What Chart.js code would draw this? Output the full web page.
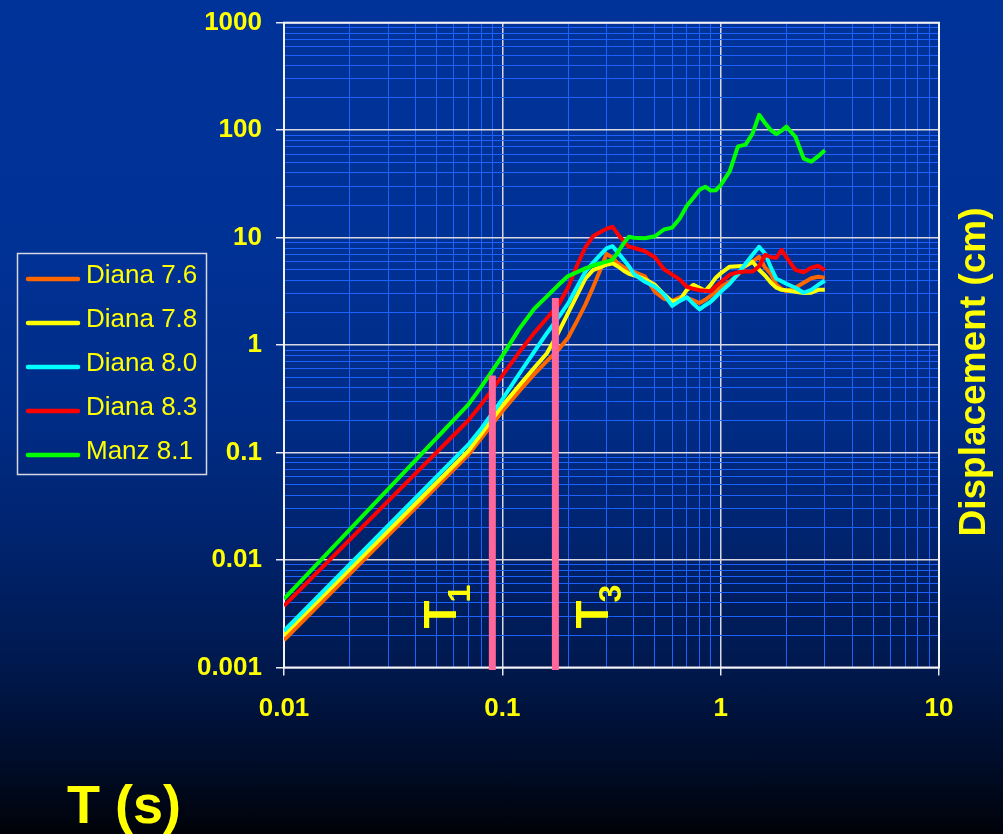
<!DOCTYPE html>
<html>
<head>
<meta charset="utf-8">
<script src="https://cdn.jsdelivr.net/npm/chart.js@4.4.1/dist/chart.umd.min.js"></script>
<style>
  html, body { margin: 0; padding: 0; }
  body {
    width: 1003px; height: 834px; overflow: hidden;
    background: linear-gradient(to bottom, #003399 0%, #003195 30%, #002c86 50%, #00236d 65%, #001a52 78%, #000e2e 90%, #000208 100%);
  }
  canvas { display: block; }
</style>
</head>
<body>
<canvas id="chart" width="1003" height="834"></canvas>
<script>
// Spectral periods (s)
const periods = [0.01, 0.07, 0.08, 0.09, 0.1, 0.12, 0.14, 0.16, 0.18, 0.2, 0.22, 0.24, 0.26, 0.28, 0.3,
  0.32, 0.34, 0.36, 0.38, 0.4, 0.45, 0.5, 0.55, 0.6, 0.65, 0.7, 0.75, 0.8, 0.85, 0.9, 0.95, 1.0,
  1.1, 1.2, 1.3, 1.4, 1.5, 1.6, 1.7, 1.8, 1.9, 2.0, 2.2, 2.4, 2.6, 2.8, 3.0];

// Spectral displacement (cm) for each record
const diana76 = [0.0018, 0.096, 0.136, 0.184, 0.242, 0.377, 0.537, 0.711, 0.898, 1.17, 1.68, 2.38, 3.43, 4.92, 7.06,
  6.50, 5.71, 5.30, 5.02, 4.81, 4.37, 3.13, 2.70, 2.58, 2.79, 2.75, 2.61, 2.46, 2.64, 2.88, 3.13, 3.49,
  3.88, 4.52, 5.47, 5.97, 6.64, 5.25, 4.61, 3.64, 3.34, 3.17, 3.42, 3.80, 4.19, 4.33, 4.24];
const diana78 = [0.00201, 0.104, 0.149, 0.205, 0.272, 0.426, 0.614, 0.841, 1.29, 1.98, 2.92, 4.16, 4.98, 5.29, 5.60,
  5.78, 5.36, 4.92, 4.61, 4.47, 4.10, 3.64, 2.97, 2.53, 2.64, 3.27, 3.64, 3.42, 3.20, 3.64, 4.24, 4.66,
  5.36, 5.42, 5.47, 5.97, 5.02, 4.42, 3.80, 3.42, 3.27, 3.24, 3.13, 3.05, 3.07, 3.27, 3.27];
const diana80 = [0.00219, 0.119, 0.167, 0.233, 0.313, 0.547, 0.871, 1.29, 1.79, 2.43, 3.48, 4.81, 5.83, 6.86, 7.96,
  8.32, 7.18, 6.22, 5.42, 4.61, 3.88, 3.49, 2.97, 2.32, 2.58, 2.79, 2.42, 2.15, 2.35, 2.53, 2.82, 3.13,
  3.72, 4.61, 5.71, 6.93, 8.22, 7.08, 5.25, 4.14, 3.93, 3.72, 3.42, 3.07, 3.27, 3.64, 3.97];
const diana83 = [0.00374, 0.200, 0.280, 0.387, 0.520, 0.869, 1.30, 1.78, 2.34, 3.44, 5.53, 8.11, 10.3, 11.2, 12.1,
  12.6, 10.6, 9.25, 8.22, 8.05, 7.47, 6.57, 5.08, 4.52, 4.06, 3.49, 3.34, 3.24, 3.20, 3.17, 3.53, 3.85,
  4.52, 4.76, 4.84, 4.84, 5.42, 6.93, 6.57, 6.50, 7.71, 6.57, 5.02, 4.76, 5.25, 5.47, 4.97];
const manz81 = [0.00435, 0.281, 0.409, 0.579, 0.794, 1.43, 2.18, 2.84, 3.60, 4.39, 4.78, 5.18, 5.50, 5.74, 5.98,
  6.22, 7.43, 8.89, 10.2, 9.98, 9.87, 10.3, 11.9, 12.4, 15.1, 19.8, 23.5, 27.9, 29.8, 27.4, 27.6, 30.8,
  41.3, 70.6, 73.3, 92.7, 139, 116, 100, 91.8, 98.9, 108, 86.9, 54.3, 50.9, 57.3, 64.9];

const seriesLabels = ['Diana 7.6', 'Diana 7.8', 'Diana 8.0', 'Diana 8.3', 'Manz 8.1'];
const seriesColors = ['#ff6600', '#ffff00', '#00ffff', '#ff0000', '#00ff00'];
const seriesValues = [diana76, diana78, diana80, diana83, manz81];

// Characteristic periods T1 and T3 (s) and the height of their markers (cm)
const markerPeriods = [0.09, 0.175];
const markerTops = [0.52, 2.75];
const markerBase = 0.00095;
const markerSubscripts = ['1', '3'];

// Axis decades and their labels
const xTickValues = [0.01, 0.1, 1, 10];
const xTickLabels = ['0.01', '0.1', '1', '10'];
const yTickValues = [0.001, 0.01, 0.1, 1, 10, 100, 1000];
const yTickLabels = ['0.001', '0.01', '0.1', '1', '10', '100', '1000'];

const FONT = 'Arial, "Liberation Sans", Helvetica, sans-serif';
const YELLOW = '#ffff00';

function isDecade(v) {
  const l = Math.log10(v);
  return Math.abs(l - Math.round(l)) < 1e-6;
}
// 1..9 x 10^e for every decade between the first and last value
function logTicks(values) {
  const out = [];
  const e0 = Math.round(Math.log10(values[0]));
  const e1 = Math.round(Math.log10(values[values.length - 1]));
  for (let e = e0; e < e1; e++) {
    for (let m = 1; m <= 9; m++) out.push(parseFloat((m * Math.pow(10, e)).toPrecision(10)));
  }
  out.push(values[values.length - 1]);
  return out.map(v => ({ value: v }));
}
function labelFor(v, values, labels) {
  if (!isDecade(v)) return '';
  const i = values.findIndex(t => Math.abs(Math.log10(t) - Math.log10(v)) < 1e-6);
  return i >= 0 ? labels[i] : '';
}

const datasets = seriesValues.map((vals, i) => ({
  label: seriesLabels[i],
  data: periods.map((t, k) => ({ x: t, y: vals[k] })),
  borderColor: seriesColors[i],
  backgroundColor: seriesColors[i],
  borderWidth: 4,
  pointRadius: 0,
  tension: 0,
  fill: false,
  borderJoinStyle: 'round',
  order: seriesValues.length - i
}));

markerPeriods.forEach((t, i) => {
  datasets.push({
    label: 'T' + markerSubscripts[i],
    data: [{ x: t, y: markerBase }, { x: t, y: markerTops[i] }],
    borderColor: '#ff6699',
    borderWidth: 7,
    borderCapStyle: 'butt',
    pointRadius: 0,
    fill: false,
    clip: false,
    order: 0
  });
});

const gridStyle = {
  color: c => (c.tick && isDecade(c.tick.value)) ? '#d9d9e6' : '#1d62ff',
  lineWidth: c => (c.tick && isDecade(c.tick.value)) ? 1.5 : 1,
  tickColor: c => (c.tick && isDecade(c.tick.value)) ? '#e8e8f0' : 'rgba(0,0,0,0)',
  tickLength: 8,
  tickWidth: 1.5,
  drawTicks: true
};

// Frame, legend, axis titles and period labels
const decorations = {
  id: 'decorations',
  beforeDatasetsDraw(chart) {
    const { ctx, chartArea: a } = chart;
    ctx.save();
    ctx.strokeStyle = '#f2f2f7';
    ctx.lineWidth = 2;
    ctx.strokeRect(a.left, a.top, a.right - a.left, a.bottom - a.top);
    ctx.restore();
  },
  afterDraw(chart) {
    const { ctx } = chart;
    const xs = chart.scales.x;
    ctx.save();

    // legend
    ctx.strokeStyle = '#d8d8e4';
    ctx.lineWidth = 1.5;
    ctx.strokeRect(17.5, 253.5, 189, 221);
    ctx.font = '26px ' + FONT;
    ctx.textBaseline = 'middle';
    ctx.textAlign = 'left';
    seriesLabels.forEach((lab, i) => {
      const y = 279 + i * 44;
      ctx.strokeStyle = seriesColors[i];
      ctx.lineWidth = 4.5;
      ctx.lineCap = 'round';
      ctx.beginPath();
      ctx.moveTo(28, y);
      ctx.lineTo(78, y);
      ctx.stroke();
      ctx.fillStyle = YELLOW;
      ctx.fillText(lab, 86, y - 3);
    });

    // y axis title on the right
    ctx.fillStyle = YELLOW;
    ctx.font = 'bold 37px ' + FONT;
    ctx.textAlign = 'center';
    ctx.textBaseline = 'alphabetic';
    ctx.save();
    ctx.translate(985, 372);
    ctx.rotate(-Math.PI / 2);
    ctx.fillText('Displacement (cm)', 0, 0);
    ctx.restore();

    // x axis title
    ctx.font = 'bold 54px ' + FONT;
    ctx.textAlign = 'left';
    ctx.fillText('T (s)', 67, 823);

    // period labels beside the markers
    const offsets = [-36, 52.5];
    markerPeriods.forEach((t, i) => {
      const px = xs.getPixelForValue(t) + offsets[i];
      ctx.save();
      ctx.translate(px, 628.5);
      ctx.rotate(-Math.PI / 2);
      ctx.textAlign = 'left';
      ctx.font = 'bold 46px ' + FONT;
      ctx.fillText('T', 0, 0);
      const w = ctx.measureText('T').width;
      ctx.font = 'bold 32px ' + FONT;
      ctx.fillText(markerSubscripts[i], w - 2, 13.5);
      ctx.restore();
    });

    ctx.restore();
  }
};

new Chart(document.getElementById('chart'), {
  type: 'line',
  data: { datasets },
  options: {
    responsive: false,
    devicePixelRatio: 1,
    animation: false,
    events: [],
    layout: { padding: { left: 0, top: 22.7, right: 64, bottom: 0 } },
    plugins: { legend: { display: false }, tooltip: { enabled: false } },
    scales: {
      x: {
        type: 'logarithmic',
        position: 'bottom',
        min: 0.01,
        max: 10,
        afterBuildTicks: s => { s.ticks = logTicks(xTickValues); },
        afterFit: s => { s.height = 166.5; s.paddingLeft = 0; s.paddingRight = 0; },
        grid: gridStyle,
        border: { display: false },
        ticks: {
          autoSkip: false,
          maxRotation: 0,
          minRotation: 0,
          padding: 18,
          color: YELLOW,
          font: { family: FONT, size: 26, weight: 'bold' },
          callback: v => labelFor(v, xTickValues, xTickLabels)
        }
      },
      y: {
        type: 'logarithmic',
        position: 'left',
        min: 0.001,
        max: 1000,
        afterBuildTicks: s => { s.ticks = logTicks(yTickValues); },
        afterFit: s => { s.width = 284; s.paddingTop = 0; s.paddingBottom = 0; },
        grid: gridStyle,
        border: { display: false },
        ticks: {
          autoSkip: false,
          padding: 14,
          color: YELLOW,
          font: { family: FONT, size: 26, weight: 'bold' },
          callback: v => labelFor(v, yTickValues, yTickLabels)
        }
      }
    }
  },
  plugins: [decorations]
});
</script>
</body>
</html>
